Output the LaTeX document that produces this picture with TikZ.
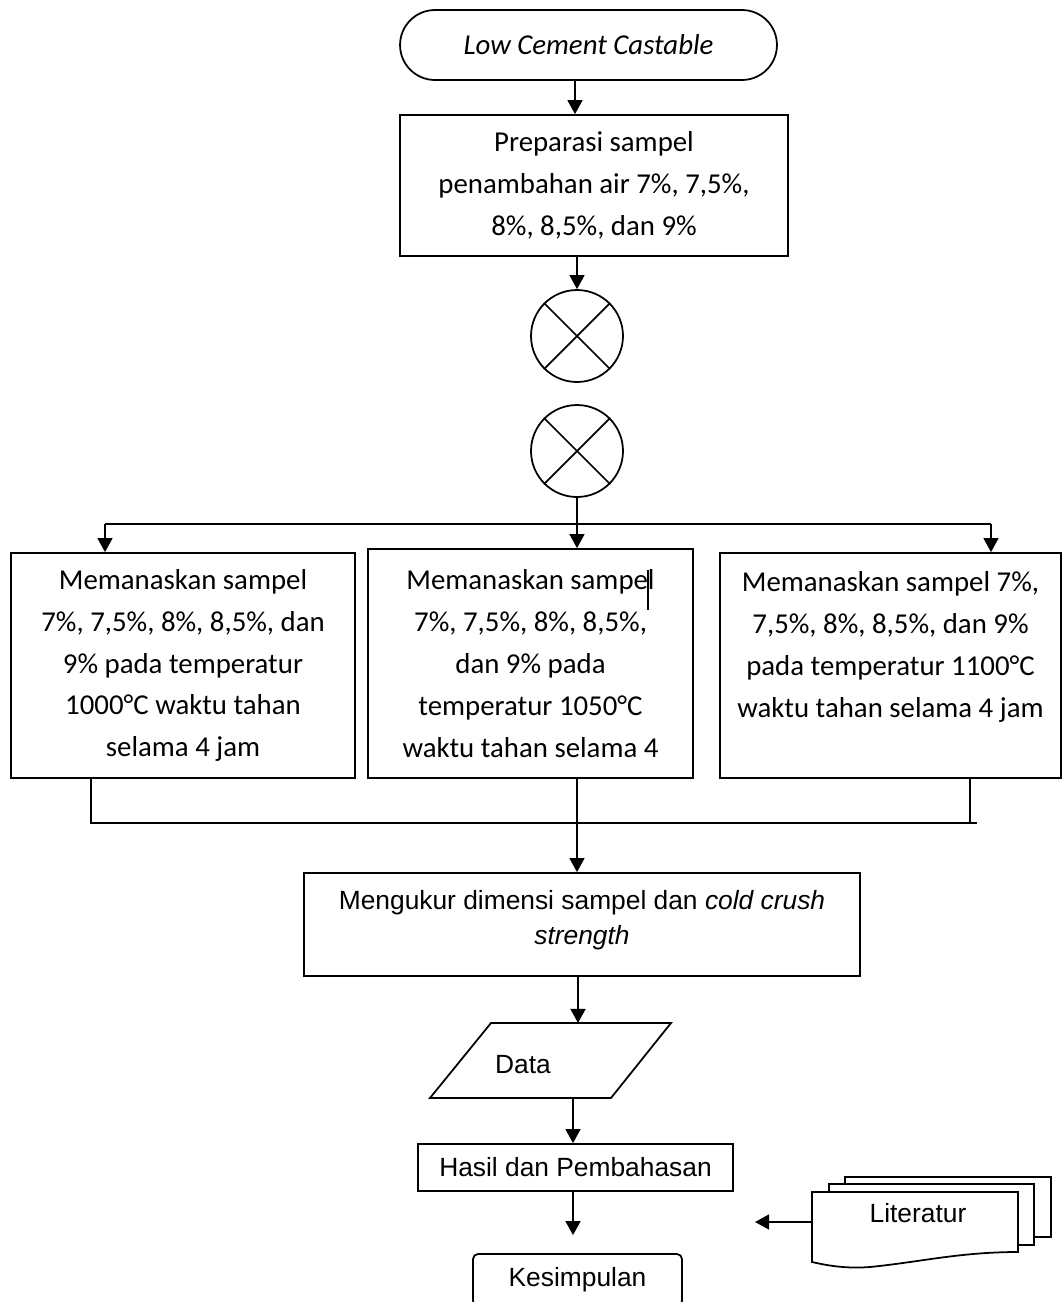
\documentclass[tikz,border=0pt]{standalone}
\usepackage{fontspec}
\setmainfont{Carlito}
\newfontfamily\arialfont{Liberation Sans}
\usetikzlibrary{arrows.meta,calc}

\begin{document}
\begin{tikzpicture}[x=0.02cm,y=-0.02cm,line width=1pt,
        arr/.style={-{Triangle[length=8pt,width=8.5pt]}},
        box/.style={draw,rectangle,inner sep=0pt,align=center},
        calibri/.style={font=\fontsize{16.4}{23.8}\selectfont},
        arial/.style={font=\arialfont\fontsize{15}{19.8}\selectfont},
        mixer/.style={draw,circle,minimum size=1.84cm,inner sep=0pt}]

        \useasboundingbox (0,0) rectangle (1063,1302);

        \node[box,calibri,rounded corners=0.7cm,minimum width=7.54cm,minimum height=1.4cm] (start) at (588.5,45) {\itshape Low Cement Castable};
        \node[box,calibri,minimum width=7.76cm,minimum height=2.82cm] (prep) at (594,185.5)
          {Preparasi sampel\\penambahan air 7\%, 7,5\%,\\8\%, 8,5\%, dan 9\%};

        \node[mixer] (c1) at (577,336) {};
        \node[mixer] (c2) at (577,451) {};
        \foreach \c in {c1,c2} {
          \draw (\c.45) -- (\c.225) (\c.135) -- (\c.315);
        }

        % three heating routes
        \node[box,calibri,minimum width=6.88cm,minimum height=4.5cm] (lbox) at (183,665.5)
          {Memanaskan sampel\\7\%, 7,5\%, 8\%, 8,5\%, dan\\9\% pada temperatur\\1000°C waktu tahan\\selama 4 jam};
        \node[box,calibri,minimum width=6.5cm,minimum height=4.58cm] (mbox) at (530.5,663.5)
          {Memanaskan sampel\\7\%, 7,5\%, 8\%, 8,5\%,\\dan 9\% pada\\temperatur 1050°C\\waktu tahan selama 4};
        \node[box,calibri,minimum width=6.82cm,minimum height=4.5cm] (rbox) at (890.5,665.5)
          {Memanaskan sampel 7\%,\\7,5\%, 8\%, 8,5\%, dan 9\%\\pada temperatur 1100°C\\waktu tahan selama 4 jam\\\mbox{}};
        \draw[line width=0.6pt] (648,570) -- (648,610);

        \node[box,arial,minimum width=11.12cm,minimum height=2.06cm] (measure) at (582,924.5)
          {Mengukur dimensi sampel dan \textit{cold crush}\\\textit{strength}\\[-12pt]\mbox{}};

        \draw (430,1098) -- (491,1023) -- (671,1023) -- (611,1098) -- cycle;
        \node[arial] (data) at (523,1065) {Data};
        \coordinate (datain) at (578,1023);
        \coordinate (dataout) at (573,1098);

        \node[box,arial,minimum width=6.3cm,minimum height=0.94cm] (result) at (575.5,1167.5) {Hasil dan Pembahasan};
        \node[box,arial,rounded corners=0.1cm,minimum width=4.18cm,minimum height=1.04cm] (concl) at (577.5,1280) {Kesimpulan};

        % stacked documents
        \draw[fill=white] (845,1177) rectangle (1051,1237);
        \draw[fill=white] (829,1184) rectangle (1034,1245);
        \draw[fill=white] (812,1192) -- (1018,1192) -- (1018,1252)
          .. controls (960,1252) and (920,1262) .. (870,1267)
          .. controls (845,1269) and (825,1265) .. (812,1262) -- cycle;
        \node[arial] (lit) at (918,1213) {Literatur};
        \coordinate (litin) at (812,1222);
        \coordinate (litout) at (755,1222);

        \coordinate (forkL) at (105,524);
        \coordinate (forkR) at (991,524);
        \coordinate (joinL) at (91,823);
        \coordinate (joinR) at (977,823);
        \coordinate (dropR) at (970,823);

        \draw[arr] (start.south -| 575,0) -- (prep.north -| 575,0);
        \draw[arr] (prep.south -| c1) -- (c1);
        \draw[arr] (c2) -- (mbox.north -| c2);
        \draw (forkL) -- (forkR);
        \draw[arr] (forkL) -- (forkL |- lbox.north);
        \draw[arr] (forkR) -- (forkR |- rbox.north);
        \draw (joinL |- lbox.south) -- (joinL) -- (joinR);
        \draw (dropR) -- (dropR |- rbox.south);
        \draw[arr] (mbox.south -| c2) -- (measure.north -| c2);
        \draw[arr] (measure.south -| datain) -- (datain);
        \draw[arr] (dataout) -- (result.north -| dataout);
        \draw[arr,shorten >=0.36cm] (result.south -| dataout) -- (concl.north -| dataout);
        \draw[arr] (litin) -- (litout);
\end{tikzpicture}
\end{document}
